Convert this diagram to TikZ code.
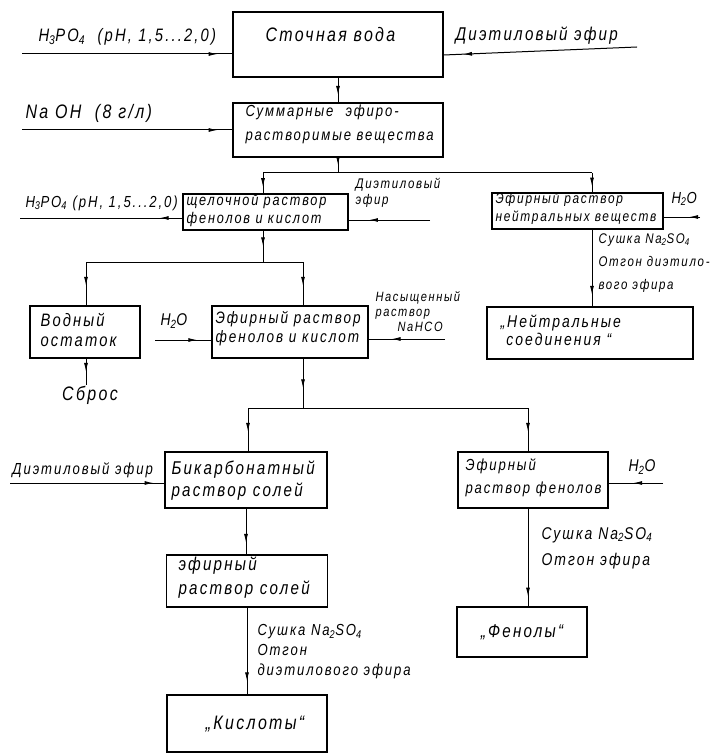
\documentclass[tikz,border=0pt]{standalone}
\usepackage{fontspec}
\setmainfont{Liberation Sans}[FakeStretch=0.82,LetterSpace=12]
\usetikzlibrary{arrows.meta,decorations.markings}
\newcommand\dn[1]{\textsubscript{#1}}
\begin{document}
\begin{tikzpicture}[x=1pt,y=-1pt,line width=1pt,
  box/.style={draw,line width=1.3pt,inner sep=0pt},
  txt/.style={inner sep=0pt,align=left,anchor=west},
  fs/.style 2 args={font=\itshape\fontsize{#1}{#2}\selectfont},
  flow/.style={postaction={decorate,decoration={markings,
     mark=at position #1 with {\arrow{Latex[length=9pt,width=4pt]}}}}},
  flow/.default=0.85]
\useasboundingbox (0,0) rectangle (711,754);

% process boxes
\node[box,minimum width=210pt,minimum height=65pt] (B1) at (338,44.5) {};
\node[box,minimum width=210pt,minimum height=54pt] (B2) at (338,130) {};
\node[box,minimum width=165pt,minimum height=36pt] (B3) at (265.5,212) {};
\node[box,minimum width=171pt,minimum height=36pt] (B4) at (577.5,211) {};
\node[box,minimum width=206pt,minimum height=52pt] (B5) at (590,333) {};
\node[box,minimum width=110pt,minimum height=52pt] (B6) at (85,332) {};
\node[box,minimum width=156pt,minimum height=52pt] (B7) at (290,332) {};
\node[box,minimum width=162pt,minimum height=56pt] (B8) at (246,480) {};
\node[box,minimum width=161pt,minimum height=52pt] (B9) at (247,581) {};
\node[box,minimum width=160pt,minimum height=57pt] (B10) at (247,723.5) {};
\node[box,minimum width=150pt,minimum height=56pt] (B11) at (533,480) {};
\node[box,minimum width=130pt,minimum height=50pt] (B12) at (522,632) {};

% box texts
\node[txt,fs={19.5}{22}] (t1) at (265,35) {Сточная вода};
\node[txt,fs={16}{24}] (t2) at (245,124) {Суммарные\hspace{12pt}эфиро-\\растворимые вещества};
\node[txt,fs={15.5}{18}] (t3) at (186,210) {щелочной раствор\\фенолов и кислот};
\node[txt,fs={14.5}{18}] (t4) at (495,208.5) {Эфирный раствор\\нейтральных веществ};
\node[txt,fs={17}{18}] (t5) at (500,330) {„Нейтральные\\\ соединения “};
\node[txt,fs={18}{20}] (t6) at (40,330) {Водный\\остаток};
\node[txt,fs={16.5}{19}] (t7) at (215,329) {Эфирный раствор\\фенолов и кислот};
\node[txt,fs={18.5}{22}] (t8) at (171,481) {Бикарбонатный\\раствор солей};
\node[txt,fs={18.5}{24}] (t9) at (178,578) {эфирный\\раствор солей};
\node[fs={19.5}{22},inner sep=0pt] (t10) at (255,724) {„Кислоты“};
\node[txt,fs={16}{23}] (t11) at (465,478) {Эфирный\\раствор фенолов};
\node[fs={18.5}{22},inner sep=0pt] (t12) at (522,632) {„Фенолы“};

% feed and product labels
\node[txt,fs={18}{20}] (l1) at (38,37) {H\dn{3}PO\dn{4}\ \ (pH, 1,5...2,0)};
\node[txt,fs={18.5}{20}] (l2) at (455,36) {Диэтиловый эфир};
\node[txt,fs={19.5}{22}] (l3) at (25,113) {Na OH\ \ (8 г/л)};
\node[txt,fs={16}{18}] (l4) at (25,203) {H\dn{3}PO\dn{4} (pH, 1,5...2,0)};
\node[txt,fs={14}{16}] (l5) at (355,193) {Диэтиловый\\эфир};
\node[txt,fs={16}{18}] (l6) at (671,199) {H\dn{2}O};
\node[txt,fs={14}{23}] (l7) at (598,263) {Сушка Na\dn{2}SO\dn{4}\\Отгон диэтило-\\вого эфира};
\node[txt,fs={17}{18}] (l8) at (160,321) {H\dn{2}O};
\node[txt,fs={13.5}{15}] (l9) at (375,312) {Насыщенный\\раствор\\\hspace*{22pt}NaHCO};
\node[fs={19.5}{22},inner sep=0pt] (l10) at (90,395) {Сброс};
\node[txt,fs={16}{18}] (l11) at (12,470) {Диэтиловый эфир};
\node[txt,fs={17}{18}] (l12) at (628,467) {H\dn{2}O};
\node[txt,fs={17}{26}] (l13) at (541,548) {Сушка Na\dn{2}SO\dn{4}\\Отгон эфира};
\node[txt,fs={16}{20}] (l14) at (257,652) {Сушка Na\dn{2}SO\dn{4}\\Отгон\\диэтилового эфира};

% free ends of feed lines
\coordinate (inA) at (22,54);
\coordinate (inB) at (637,47);
\coordinate (inC) at (22,130);
\coordinate (outA) at (20,218);
\coordinate (inD) at (430,220);
\coordinate (inE) at (700,217);
\coordinate (inF) at (155,340);
\coordinate (inG) at (445,339);
\coordinate (inH) at (10,483);
\coordinate (inI) at (663,483);

% branch points
\coordinate (j1) at (338,173);
\coordinate (j1l) at (263,173);
\coordinate (j1r) at (592,173);
\coordinate (j2) at (263,262);
\coordinate (j2l) at (86,262);
\coordinate (j2r) at (303,262);
\coordinate (j3) at (303,408);
\coordinate (j3l) at (248,408);
\coordinate (j3r) at (528,408);

% feeds
\draw[flow=0.93] (inA) -- (inA -| B1.west);
\draw[flow=0.9] (inB) -- ([yshift=-10.5pt]B1.east);
\draw[flow=0.93] (inC) -- (inC -| B2.west);
\draw[flow=0.14] (outA -| B3.west) -- (outA);
\draw[flow=0.75] (inD) -- (inD -| B3.east);
\draw[flow=0.3] (inE) -- (inE -| B4.east);
\draw[flow=0.75] (inF) -- (inF -| B7.west);
\draw[flow=0.7] (inG) -- (inG -| B7.east);
\draw[flow=0.93] (inH) -- (inH -| B8.west);
\draw[flow=0.55] (inI) -- (inI -| B11.east);

% main flow
\draw[flow=0.7] (B1.south) -- (B2.north);
\draw[flow=0.5] (B2.south) -- (j1);
\draw (j1l) -- (j1r);
\draw[flow=0.7] (j1l) -- (j1l |- B3.north);
\draw[flow=0.7] (j1r) -- (j1r |- B4.north);
\draw[flow=0.85] (B4.south -| j1r) -- (j1r |- B5.north);
\draw[flow=0.5] (B3.south -| j2) -- (j2);
\draw (j2l) -- (j2r);
\draw[flow=0.55] (j2l) -- (j2l |- B6.north);
\draw[flow=0.55] (j2r) -- (j2r |- B7.north);
\draw[flow=0.5] (B6.south -| j2l) -- (j2l |- l10.north);
\draw[flow=0.6] (B7.south -| j3) -- (j3);
\draw (j3l) -- (j3r);
\draw[flow=0.55] (j3l) -- (j3l |- B8.north);
\draw[flow=0.55] (j3r) -- (j3r |- B11.north);
\draw[flow=0.75] (B8.south) -- (B8.south |- B9.north);
\draw[flow=0.85] (B9.south) -- (B9.south |- B10.north);
\draw[flow=0.9] (B11.south -| j3r) -- (j3r |- B12.north);
\end{tikzpicture}
\end{document}
